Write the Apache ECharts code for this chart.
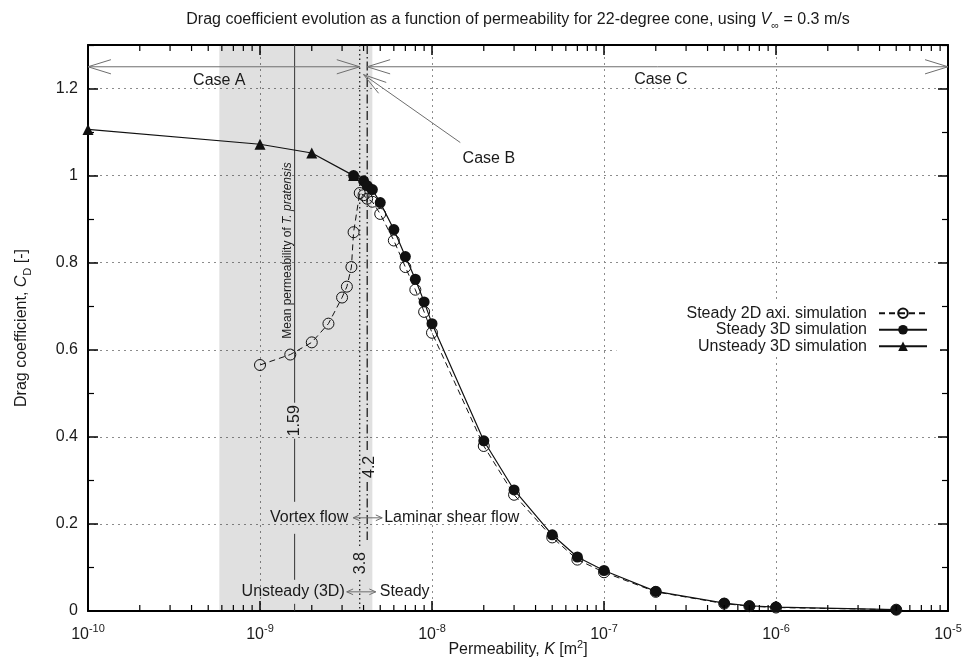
<!DOCTYPE html>
<html>
<head>
<meta charset="utf-8">
<script src="https://cdn.jsdelivr.net/npm/echarts@6/dist/echarts.min.js"></script>
<style>
  html, body { margin: 0; padding: 0; background: #fff; }
  #chart { width: 974px; height: 665px; }
</style>
</head>
<body>
<div id="chart"></div>
<script>
// values
const k2D = [1e-9, 1.5e-9, 2e-9, 2.5e-9, 3e-9, 3.2e-9, 3.4e-9, 3.5e-9, 3.8e-9, 4.0e-9, 4.2e-9, 4.5e-9,
             5e-9, 6e-9, 7e-9, 8e-9, 9e-9, 1e-8, 2e-8, 3e-8, 5e-8, 7e-8, 1e-7, 2e-7, 5e-7, 7e-7, 1e-6, 5e-6];
const cd2D = [0.565, 0.589, 0.617, 0.66, 0.72, 0.745, 0.79, 0.87, 0.96, 0.955, 0.947, 0.94,
              0.912, 0.851, 0.79, 0.738, 0.687, 0.639, 0.379, 0.267, 0.169, 0.118, 0.089, 0.044, 0.017, 0.011, 0.008, 0.003];

const k3D = [3.5e-9, 4.0e-9, 4.2e-9, 4.5e-9, 5e-9, 6e-9, 7e-9, 8e-9, 9e-9, 1e-8,
             2e-8, 3e-8, 5e-8, 7e-8, 1e-7, 2e-7, 5e-7, 7e-7, 1e-6, 5e-6];
const cd3D = [1.0, 0.988, 0.977, 0.968, 0.938, 0.876, 0.814, 0.762, 0.71, 0.66,
              0.391, 0.278, 0.175, 0.124, 0.093, 0.045, 0.018, 0.012, 0.009, 0.003];

const kUnsteady = [1e-10, 1e-9, 2e-9, 3.5e-9];
const cdUnsteady = [1.106, 1.072, 1.052, 1.0];

const seriesNames = ['Steady 2D axi. simulation', 'Steady 3D simulation', 'Unsteady 3D simulation'];

const kRange = [1e-10, 1e-5];
const cdRange = [0, 1.3];
const decades = [1e-10, 1e-9, 1e-8, 1e-7, 1e-6];
const minorSteps = [2, 3, 4, 5, 6, 7, 8, 9];

// reference permeabilities marked on the plot
const meanK = 1.59e-9;       // T. pratensis
const steadyK = 3.8e-9;      // unsteady -> steady
const shearK = 4.2e-9;       // vortex -> laminar shear
const bandK = [5.8e-10, 4.5e-9];
const caseCd = 1.25;

const FONT = '"Liberation Sans", Arial, Helvetica, sans-serif';
const INK = '#1a1a1a';
const BAND = 'rgba(0,0,0,0.12)';
const ARROW = '#6e6e6e';

const pairs = (xs, ys) => xs.map((x, i) => [x, ys[i]]);
const minorTicks = [];
decades.forEach(d => minorSteps.forEach(m => minorTicks.push(m * d)));

const base = { fontFamily: FONT, fontSize: 16, color: INK };
const richSet = {
  n: Object.assign({}, base, { lineHeight: 22 }),
  i: Object.assign({}, base, { fontStyle: 'italic', lineHeight: 22 }),
  sub: Object.assign({}, base, { fontSize: 11, lineHeight: 13, verticalAlign: 'bottom' }),
  sup: Object.assign({}, base, { fontSize: 11, lineHeight: 12, verticalAlign: 'top' })
};

const tickStyle = { color: '#000', width: 1.5 };
const borderStyle = { color: '#000', width: 2 };
const gridStyle = { color: '#8c8c8c', width: 1, type: [2, 4] };

function xAxis(pos) {
  const top = pos === 'top';
  return {
    type: 'log', logBase: 10, min: kRange[0], max: kRange[1], splitNumber: 5,
    position: pos,
    axisLine: { show: true, onZero: false, lineStyle: borderStyle },
    axisTick: { show: true, inside: true, length: 10, lineStyle: tickStyle },
    splitLine: { show: !top, lineStyle: gridStyle },
    axisLabel: top ? { show: false } : {
      margin: 12, fontFamily: FONT, fontSize: 16, color: INK, lineHeight: 24,
      formatter: v => '10{s|' + Math.round(Math.log10(v)) + '}',
      rich: { s: { fontFamily: FONT, fontSize: 11, color: INK, lineHeight: 12, verticalAlign: 'top' } }
    },
    name: top ? '' : '{n|Permeability, }{i|K}{n| [m}{sup|2}{n|]}',
    nameLocation: 'middle', nameGap: 28, nameMoveOverlap: false,
    nameTextStyle: { rich: richSet }
  };
}

function yAxis(pos) {
  const right = pos === 'right';
  return {
    type: 'value', min: cdRange[0], max: cdRange[1], interval: 0.2,
    position: pos,
    axisLine: { show: true, onZero: false, lineStyle: borderStyle },
    axisTick: { show: true, inside: true, length: 10, lineStyle: tickStyle },
    minorTick: { show: true, splitNumber: 2, length: 6, lineStyle: { color: '#000', width: 1.2 } },
    splitLine: { show: !right, lineStyle: gridStyle },
    axisLabel: right ? { show: false } : {
      margin: 10, fontFamily: FONT, fontSize: 16, color: INK, showMaxLabel: false,
      formatter: v => (v > 1.25 ? '' : String(+v.toFixed(1)))
    },
    name: right ? '' : '{n|Drag coefficient, }{i|C}{sub|D}{n| [-]}',
    nameLocation: 'middle', nameGap: 55, nameMoveOverlap: false,
    nameTextStyle: { rich: richSet }
  };
}

const option = {
  animation: false,
  backgroundColor: '#fff',
  grid: { left: 88, right: 26, top: 45, bottom: 54, containLabel: false, outerBoundsMode: 'none' },
  xAxis: [xAxis('bottom'), xAxis('top')],
  yAxis: [yAxis('left'), yAxis('right')],
  legend: {
    data: seriesNames,
    orient: 'vertical', align: 'right',
    right: 34, top: 300,
    itemWidth: 48, itemHeight: 12, itemGap: 0,
    padding: [5, 12, 2, 70],
    backgroundColor: '#fff',
    selectedMode: false,
    textStyle: { fontFamily: FONT, fontSize: 16, color: INK, lineHeight: 16.5, padding: [0, 7, 0, 0] }
  },
  series: [
    {
      type: 'custom', name: 'minor ticks', silent: true, z: 5,
      data: minorTicks.map(v => [v, 0]),
      renderItem(params, api) {
        const x = api.coord([api.value(0), 0])[0];
        const cs = params.coordSys;
        const y0 = cs.y + cs.height;
        return {
          type: 'group',
          children: [
            { type: 'line', shape: { x1: x, y1: y0, x2: x, y2: y0 - 6 }, style: { stroke: '#000', lineWidth: 1.2 } },
            { type: 'line', shape: { x1: x, y1: cs.y, x2: x, y2: cs.y + 6 }, style: { stroke: '#000', lineWidth: 1.2 } }
          ]
        };
      }
    },
    {
      name: seriesNames[0], type: 'line', z: 2,
      data: pairs(k2D, cd2D),
      symbol: 'circle', symbolSize: 11,
      lineStyle: { color: '#111', width: 1, type: [6, 4] },
      itemStyle: { color: 'rgba(0,0,0,0)', borderColor: '#111', borderWidth: 1 },
      markArea: {
        silent: true,
        itemStyle: { color: BAND },
        data: [[{ xAxis: bandK[0] }, { xAxis: bandK[1] }]]
      }
    },
    {
      name: seriesNames[2], type: 'line', z: 2,
      data: pairs(kUnsteady, cdUnsteady),
      symbol: 'triangle', symbolSize: 11,
      lineStyle: { color: '#111', width: 1.2 },
      itemStyle: { color: '#111' }
    },
    {
      name: seriesNames[1], type: 'line', z: 3,
      data: pairs(k3D, cd3D),
      symbol: 'circle', symbolSize: 11,
      lineStyle: { color: '#111', width: 1.2 },
      itemStyle: { color: '#111' }
    }
  ]
};

const chart = echarts.init(document.getElementById('chart'));
chart.setOption(option);

function barbs(tip, from, len, spread) {
  const a = Math.atan2(from[1] - tip[1], from[0] - tip[0]);
  return [
    [tip[0] + len * Math.cos(a + spread), tip[1] + len * Math.sin(a + spread)],
    tip,
    [tip[0] + len * Math.cos(a - spread), tip[1] + len * Math.sin(a - spread)]
  ];
}

function buildAnnotations() {
  const at = (k, cd) => chart.convertToPixel({ xAxisIndex: 0, yAxisIndex: 0 }, [k, cd]);
  const els = [];
  const line = (p, q, stroke, width, dash, z) => els.push({
    type: 'line', silent: true, z: z || 1,
    shape: { x1: p[0], y1: p[1], x2: q[0], y2: q[1] },
    style: { stroke: stroke, lineWidth: width, lineDash: dash || null }
  });
  // vertical line broken where labels sit; gaps are [centre y, half height]
  const gapped = (x, y0, y1, gaps, stroke, width, dash) => {
    let start = y0;
    gaps.slice().sort((a, b) => a[0] - b[0]).forEach(g => {
      if (g[0] - g[1] > start) line([x, start], [x, g[0] - g[1]], stroke, width, dash);
      start = Math.max(start, g[0] + g[1]);
    });
    if (y1 > start) line([x, start], [x, y1], stroke, width, dash);
  };
  const head = (pts) => els.push({
    type: 'polyline', silent: true, z: 6,
    shape: { points: pts }, style: { stroke: ARROW, lineWidth: 1, fill: null }
  });
  const text = (x, y, str, extra) => els.push(Object.assign({
    type: 'text', silent: true, z: 10, x: x, y: y,
    style: Object.assign({ text: str, fontFamily: FONT, fontSize: 16, fill: INK, align: 'center', verticalAlign: 'middle' }, extra && extra.style)
  }, extra && extra.el));

  const yTop = at(kRange[0], cdRange[1])[1];
  const yBot = at(kRange[0], 0)[1];
  const mx = at(meanK, 0)[0];
  const sx = at(steadyK, 0)[0];
  const hx = at(shearK, 0)[0];
  const vy = at(shearK, 0.214)[1];      // vortex / laminar row
  const uy = at(steadyK, 0.044)[1];     // unsteady / steady row
  const meanLabelY = at(meanK, 0.437)[1];
  const shearLabelY = at(shearK, 0.331)[1];
  const steadyLabelY = at(steadyK, 0.11)[1];

  // title
  const titleX = (at(kRange[0], 0)[0] + at(kRange[1], 0)[0]) / 2;
  text(titleX, 20, '{n|Drag coefficient evolution as a function of permeability for 22-degree cone, using }{i|V}{sub|\u221e}{n| = 0.3 m/s}',
       { style: { rich: richSet } });

  // vertical reference lines
  gapped(mx, yTop, yBot, [[meanLabelY, 18], [vy, 16], [uy, 12]], '#333', 1);
  gapped(sx, yTop, yBot, [[steadyLabelY, 17]], '#111', 1.2, [1.5, 3]);
  gapped(hx, yTop, at(shearK, 0.163)[1], [[shearLabelY, 15]], '#111', 1.2, [9, 3, 1.5, 3]);

  text(mx - 7, at(meanK, 0.828)[1], 'Mean permeability of {it|T. pratensis}', {
    el: { rotation: Math.PI / 2 },
    style: { fontSize: 12, rich: { it: { fontFamily: FONT, fontSize: 12, fontStyle: 'italic', fill: INK } } }
  });
  text(mx, meanLabelY, '1.59', { el: { rotation: Math.PI / 2 } });
  text(hx + 2, shearLabelY, '4.2', { el: { rotation: Math.PI / 2 } });
  text(sx + 1, steadyLabelY, '3.8', { el: { rotation: Math.PI / 2 } });

  // flow regime rows
  line([hx - 14, vy], [hx + 15, vy], ARROW, 1, null, 6);
  head(barbs([hx - 14, vy], [hx + 15, vy], 7, 0.42));
  head(barbs([hx + 15, vy], [hx - 14, vy], 7, 0.42));
  text(hx - 19, vy, 'Vortex flow', { style: { align: 'right' } });
  text(hx + 17, vy, 'Laminar shear flow', { style: { align: 'left' } });

  line([sx - 13, uy], [sx + 16, uy], ARROW, 1, null, 6);
  head(barbs([sx - 13, uy], [sx + 16, uy], 7, 0.42));
  head(barbs([sx + 16, uy], [sx - 13, uy], 7, 0.42));
  text(sx - 15, uy, 'Unsteady (3D)', { style: { align: 'right' } });
  text(sx + 20, uy, 'Steady', { style: { align: 'left' } });

  // case arrows along the top
  const a0 = at(kRange[0], caseCd), a1 = at(steadyK, caseCd);
  const c0 = at(shearK, caseCd), c1 = at(kRange[1], caseCd);
  line(a0, a1, ARROW, 1, null, 6);
  line(c0, c1, ARROW, 1, null, 6);
  head(barbs(a0, a1, 24, 0.3));
  head(barbs(a1, a0, 24, 0.3));
  head(barbs(c0, c1, 24, 0.3));
  head(barbs(c1, c0, 24, 0.3));
  const bTip = at(4.0e-9, 1.232), bTail = at(1.46e-8, 1.076);
  line(bTail, bTip, ARROW, 1, null, 6);
  head(barbs(bTip, bTail, 24, 0.28));

  const ca = at(5.8e-10, 1.218), cc = at(2.14e-7, 1.22), cb = at(2.14e-8, 1.04);
  text(ca[0], ca[1], 'Case A');
  text(cc[0], cc[1], 'Case C');
  text(cb[0], cb[1], 'Case B');
  return els;
}

chart.setOption({ graphic: { elements: buildAnnotations() } });
</script>
</body>
</html>
